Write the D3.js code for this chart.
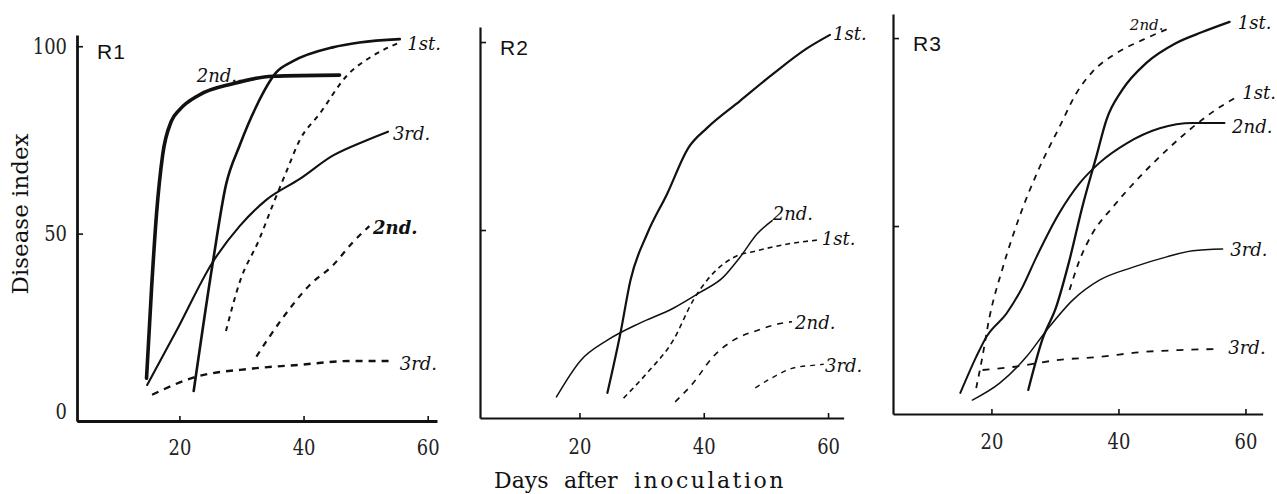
<!DOCTYPE html>
<html>
<head>
<meta charset="utf-8">
<script src="https://cdn.jsdelivr.net/npm/d3@7"></script>
<style>
  html, body { margin: 0; padding: 0; background: #ffffff; }
  svg { display: block; }
</style>
</head>
<body>
<div id="chart"></div>
<script>
// panels and ticks
const panelNames = ["R1", "R2", "R3"];
const xTickValues = [20, 40, 60];
const yTickValues = [0, 50, 100];
const yTickValuesNoLabel = [50, 100];
const xTitleWords = ["Days", "after", "inoculation"];

// R1 curves [day, disease index]
const r1Solid1st = [[22.3, 8], [25.4, 42.5], [27.5, 63], [29.7, 73.5], [32.4, 84], [35.6, 93], [38.3, 96], [44.7, 99.7], [49, 101], [55.5, 101.9]];
const r1Solid2nd = [[14.7, 11.4], [15.5, 35], [16.3, 55], [17.3, 71], [18.7, 80], [20, 83], [23.2, 87], [28.6, 90], [35, 92], [45.8, 92.3]];
const r1Solid3rd = [[14.8, 9.6], [19.5, 24], [25.4, 42.5], [29.7, 52], [34, 59], [39.4, 64.6], [44.7, 70.8], [50, 74.8], [53.6, 77.2]];
const r1Dash1st = [[27.5, 24], [29.7, 37], [32.9, 48.6], [35, 57.5], [37.2, 66.4], [39.4, 75], [42.6, 82], [46.9, 92], [51.2, 97.5], [55.5, 101]];
const r1Dash2nd = [[32.4, 17.2], [36.6, 27.4], [41, 36.3], [44.7, 41.5], [48, 47.8], [50.6, 52]];
const r1Dash3rd = [[15.6, 7], [22.1, 11.5], [31.8, 14], [39.4, 15], [47.4, 16], [54.4, 16]];

// R2 curves
const r2Solid1st = [[24.5, 6.7], [26.6, 22.6], [28.2, 36.6], [30.9, 49], [34.1, 59.6], [37.5, 71.8], [40.5, 77.1], [45.8, 84.3], [51.2, 91.6], [56.6, 98.3], [60.3, 101.9]];
const r2Solid2nd = [[16.3, 5.6], [20.2, 15.3], [24.5, 20.7], [29.8, 25.3], [35.1, 29.2], [39.4, 33.4], [43.1, 37.4], [45.8, 42.7], [48.6, 49], [51, 52.5]];
const r2Dash1st = [[27.1, 5.3], [30.9, 12], [35.1, 20.7], [38.3, 31.3], [40.5, 36.6], [44.8, 42.7], [48.6, 44.5], [53.9, 46.4], [58.2, 47.3]];
const r2Dash2nd = [[35.4, 4.3], [38.3, 9.3], [41.5, 16.3], [44.8, 20.7], [48.6, 23.3], [52.8, 25.3], [54.2, 25.6]];
const r2Dash3rd = [[48.3, 8], [51.2, 10.9], [54.4, 13.3], [58.2, 14.1], [59.3, 14.3]];

// R3 curves
const r3Solid1st = [[25.8, 6.4], [28, 19.7], [30.2, 28.5], [32.3, 41], [34.3, 55], [36.5, 68.4], [38.1, 78.2], [40.6, 86.2], [44.4, 93.4], [49.1, 98.7], [53.2, 101.6], [57.5, 104.3]];
const r3Solid2nd = [[15.1, 5.6], [17.6, 15.2], [19.2, 20.5], [22.4, 26.8], [24.9, 33.8], [27.1, 41.8], [30.7, 53.5], [33.9, 61.4], [37, 66.8], [41.3, 72], [46.5, 76], [51.7, 77.4], [56.7, 77.4]];
const r3Solid3rd = [[17, 3.7], [21.3, 8.2], [25.5, 15.2], [28.7, 22.3], [32.8, 30.3], [37, 35.6], [42.2, 39], [47.6, 41.8], [51.7, 43.4], [56.4, 43.9]];
const r3Dash1st = [[32.3, 33], [33.9, 41], [35.9, 48], [39.1, 55], [43.3, 63], [47.6, 70.2], [51.7, 76.3], [54.8, 80.3], [58.6, 84.3]];
const r3Dash2nd = [[17.6, 6.9], [18.4, 13.6], [19.7, 25.8], [21.8, 39], [24.4, 52.4], [27.6, 65.7], [30.7, 76.3], [33.4, 85.4], [35.9, 91], [39.7, 96], [43.8, 99.5], [48, 102.6]];
const r3Dash3rd = [[18.6, 11.7], [23.3, 12.5], [30.7, 14.4], [37, 15.2], [43.8, 16.5], [49.6, 17], [55.6, 17.3]];

const prop_width = 1277;
const prop_height = 494;
const prop_serif = "DejaVu Serif";
const prop_name_font = "Liberation Sans";

// series styles, label anchors in data units
const seriesR1 = [
    { data: r1Solid1st, dash: null, w: 2.6, label: "1st.", at: [56.7, 99] },
    { data: r1Solid2nd, dash: null, w: 3.6, label: "2nd..", at: [22.8, 90.4] },
    { data: r1Solid3rd, dash: null, w: 2.1, label: "3rd.", at: [54.4, 75] },
    { data: r1Dash1st, dash: "5,5", w: 2, label: null },
    { data: r1Dash2nd, dash: "6,6", w: 2.2, label: "2nd.", at: [51.2, 49.9], bold: true },
    { data: r1Dash3rd, dash: "7,6", w: 2.4, label: "3rd.", at: [55.5, 13.6] }
];
const seriesR2 = [
    { data: r2Solid1st, dash: null, w: 2.2, label: "1st.", at: [60.8, 100.5] },
    { data: r2Solid2nd, dash: null, w: 1.5, label: "2nd.", at: [51.1, 52.7] },
    { data: r2Dash1st, dash: "5,4", w: 1.6, label: "1st.", at: [59, 46] },
    { data: r2Dash2nd, dash: "6,6", w: 1.6, label: "2nd.", at: [54.7, 23.7] },
    { data: r2Dash3rd, dash: "5,5", w: 1.4, label: "3rd.", at: [59.5, 12.2] }
];
const seriesR3 = [
    { data: r3Solid1st, dash: null, w: 2.3, label: "1st.", at: [58.8, 102.4] },
    { data: r3Solid2nd, dash: null, w: 2, label: "2nd.", at: [57.9, 74.7] },
    { data: r3Solid3rd, dash: null, w: 1.5, label: "3rd.", at: [57.6, 42] },
    { data: r3Dash1st, dash: "6,6", w: 1.8, label: "1st.", at: [59.5, 83.8] },
    { data: r3Dash2nd, dash: "6,6", w: 1.8, label: "2nd.", at: [41.8, 102.1], small: true },
    { data: r3Dash3rd, dash: "7,8", w: 1.8, label: "3rd.", at: [57.3, 16] }
];

const panels = [
    { name: panelNames[0], xDomain: [3.5, 61.5], xRange: [77, 437], yDomain: [0, 103], yRange: [421, 35], series: seriesR1, yLabels: true, pad: 18, axisW: 2.8 },
    { name: panelNames[1], xDomain: [4, 62.5], xRange: [480, 843.6], yDomain: [0, 104], yRange: [418, 27], series: seriesR2, yLabels: false, pad: 20, axisW: 2.2 },
    { name: panelNames[2], xDomain: [4.5, 62.7], xRange: [893, 1262.6], yDomain: [0, 106.4], yRange: [414, 14], series: seriesR3, yLabels: false, pad: 19, axisW: 2.2 }
];

let svg = d3.select("#chart").append("svg")
    .attr("width", prop_width)
    .attr("height", prop_height)
    .style("background", "#ffffff");

// narrow serif digits, like the printed figure
function fn_narrow_digits(sel) {
    sel.attr("fill", "#222")
        .attr("font-family", prop_serif)
        .attr("font-size", 23)
        .style("font-family", prop_serif)
        .attr("lengthAdjust", "spacingAndGlyphs")
        .attr("textLength", function () {
            return this.textContent.length * 11.4;
        });
}

function fn_draw_panel(panel) {
    const x = d3.scaleLinear().domain(panel.xDomain).range(panel.xRange);
    const y = d3.scaleLinear().domain(panel.yDomain).range(panel.yRange);
    let g = svg.append("g").classed("g_panel", true);

    // x axis, ticks pointing inward
    let gx = g.append("g")
        .attr("transform", `translate(0,${y(0)})`)
        .call(d3.axisBottom(x).tickValues(xTickValues).tickSizeInner(-5).tickSizeOuter(0).tickPadding(panel.pad));
    gx.select(".domain").attr("stroke", "#111").attr("stroke-width", panel.axisW);
    gx.selectAll(".tick line").attr("stroke", "#111").attr("stroke-width", 1.6);
    gx.selectAll(".tick text").call(fn_narrow_digits);

    // y axis
    let gy = g.append("g")
        .attr("transform", `translate(${x.range()[0]},0)`)
        .call(d3.axisLeft(y)
            .tickValues(panel.yLabels ? yTickValues : yTickValuesNoLabel)
            .tickSizeInner(-6).tickSizeOuter(0).tickPadding(10)
            .tickFormat(panel.yLabels ? d3.format("d") : ""));
    gy.select(".domain").attr("stroke", "#111").attr("stroke-width", panel.axisW);
    gy.selectAll(".tick line").attr("stroke", "#111").attr("stroke-width", 1.6);
    gy.selectAll(".tick text")
        .call(fn_narrow_digits)
        .attr("dy", d => d === 0 ? "-0.1em" : "0.32em");

    // panel name
    g.append("text")
        .text(panel.name)
        .attr("x", x.range()[0] + 20)
        .attr("y", y(100) + 13)
        .attr("fill", "#111")
        .attr("font-family", prop_name_font)
        .attr("font-size", 21)
        .attr("letter-spacing", 1);

    const line = d3.line()
        .x(d => x(d[0]))
        .y(d => y(d[1]))
        .curve(d3.curveMonotoneX);

    panel.series.forEach(s => {
        g.append("path")
            .datum(s.data)
            .attr("d", line)
            .attr("fill", "none")
            .attr("stroke", "#111")
            .attr("stroke-width", s.w)
            .attr("stroke-linecap", s.dash ? "butt" : "round")
            .attr("stroke-linejoin", "round")
            .attr("stroke-dasharray", s.dash);
        if (s.label) {
            g.append("text")
                .text(s.label)
                .attr("x", x(s.at[0]))
                .attr("y", y(s.at[1]))
                .attr("fill", "#111")
                .attr("font-family", prop_serif)
                .attr("font-style", "italic")
                .attr("font-weight", s.bold ? "bold" : "normal")
                .attr("font-size", s.small ? 15 : 18);
        }
    });
}

panels.forEach(fn_draw_panel);

// shared axis titles
svg.append("text")
    .text("Disease index")
    .attr("transform", "translate(20,214) rotate(-90)")
    .attr("text-anchor", "middle")
    .attr("dominant-baseline", "central")
    .attr("fill", "#111")
    .attr("font-family", prop_serif)
    .attr("font-size", 23);

// the words of the x title sit far apart
const xTitleLeft = [494, 564, 634];
const xTitleSpacing = [0, 0, 2.5];
svg.selectAll(".x_title")
    .data(xTitleWords)
    .join("text")
    .classed("x_title", true)
    .text(d => d)
    .attr("x", (d, i) => xTitleLeft[i])
    .attr("y", 488)
    .attr("fill", "#111")
    .attr("font-family", prop_serif)
    .attr("font-size", 22)
    .attr("letter-spacing", (d, i) => xTitleSpacing[i]);
</script>
</body>
</html>
